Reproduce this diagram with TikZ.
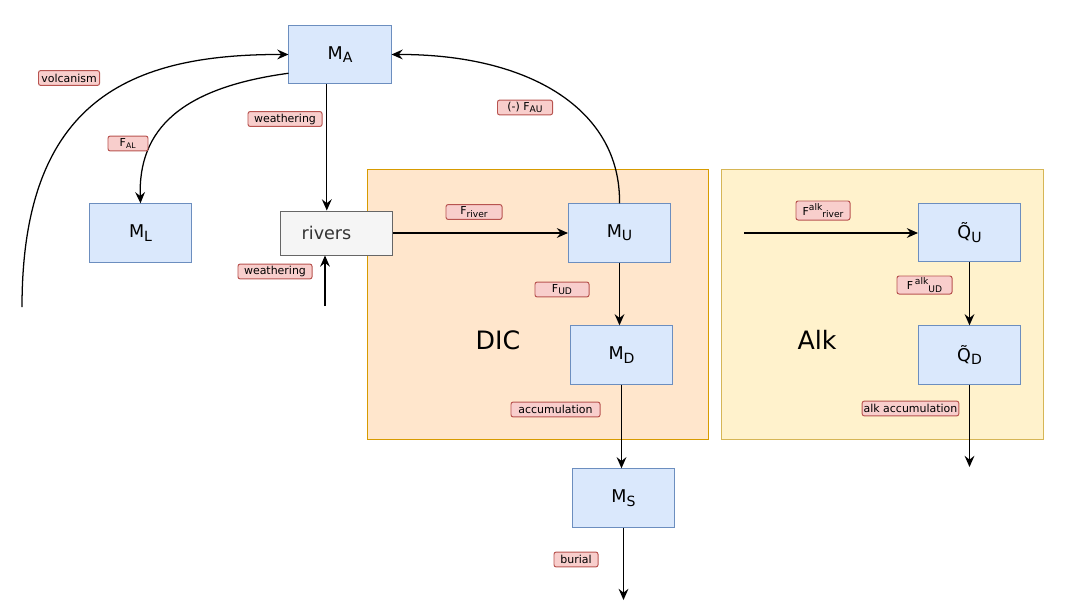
\documentclass[tikz,border=0pt]{standalone}
\usepackage{fontspec}
\setmainfont{DejaVu Sans}
\usepackage{tikz}
\usetikzlibrary{arrows.meta}
\definecolor{poolfill}{HTML}{DAE8FC}
\definecolor{poolline}{HTML}{6C8EBF}
\definecolor{labelfill}{HTML}{F8CECC}
\definecolor{labelline}{HTML}{B85450}
\definecolor{dicfill}{HTML}{FFE6CC}
\definecolor{dicline}{HTML}{D79B00}
\definecolor{alkfill}{HTML}{FFF2CC}
\definecolor{alkline}{HTML}{D6B656}
\definecolor{riverfill}{HTML}{F5F5F5}
\definecolor{riverline}{HTML}{666666}
\newcommand{\poolsub}[1]{\raisebox{-0.35ex}{\fontsize{10}{11}\selectfont #1}}
\newcommand{\fluxsub}[1]{\raisebox{-0.4ex}{\fontsize{6.5}{7}\selectfont #1}}
\newcommand{\fluxsup}[1]{\raisebox{0.8ex}{\fontsize{6.5}{7}\selectfont #1}}

\begin{document}
\begin{tikzpicture}[x=0.025cm,y=-0.025cm,->,line width=0.9pt,
                    >={Stealth[length=8pt,width=7pt,inset=2.8pt]},
                    pool node/.style={rectangle,draw=poolline,fill=poolfill,line width=0.7pt,
                        minimum width=2.55cm,minimum height=1.46cm,font=\fontsize{12.5}{14}\selectfont},
                    flux label/.style={rectangle,rounded corners=1.5pt,draw=labelline,fill=labelfill,
                        line width=0.7pt,inner sep=1pt,minimum height=0.37cm,font=\fontsize{7.8}{9}\selectfont},
                    region name/.style={font=\fontsize{18}{20}\selectfont}]
      \useasboundingbox (0,0) rectangle (1079,614);
      % ocean regions
      \path[-,draw=dicline,fill=dicfill,line width=0.7pt] (367,169) rectangle (708,439);
      \path[-,draw=alkline,fill=alkfill,line width=0.7pt] (721,169) rectangle (1043,439);
      \node[region name] (DIC) at (498,340) {DIC};
      \node[region name] (Alk) at (817,340) {Alk};

      \node[pool node] (MA) at (340,54.5) {M\poolsub{A}};
      \node[pool node] (ML) at (140.5,233) {M\poolsub{L}};
      \node[pool node,draw=riverline,fill=riverfill,text=black!80,minimum width=2.82cm,minimum height=1.1cm] (R) at (336.5,233) {rivers\hspace*{0.5cm}};
      \node[pool node] (MU) at (619.5,233) {M\poolsub{U}};
      \node[pool node] (MD) at (621.5,355) {M\poolsub{D}};
      \node[pool node] (MS) at (623.5,498) {M\poolsub{S}};
      \node[pool node] (QU) at (969.5,232.5) {\~{Q}\poolsub{U}};
      \node[pool node] (QD) at (969.5,355) {\~{Q}\poolsub{D}};

      \coordinate (volc) at (22,307);
      \coordinate (wIn) at (325,306);
      \coordinate (bur) at (623,600);
      \coordinate (alkIn) at (744,233);
      \coordinate (alkOut) at (969.5,467);

      % atmosphere and land
      \draw (volc) .. controls (22,100) and (130,54) .. (MA.west);
      \draw (MA.200) .. controls (180,88) and (138,130) .. (ML.north);
      \draw ([xshift=-0.33cm]MA.south) coordinate (wOut) -- (wOut |- R.north);
      \draw (wIn) -- (wIn |- R.south);
      \draw (MU.north) .. controls (621,110) and (530,54) .. (MA.east);
      %
      \draw (R.east) -- (MU.west);
      \draw (MU.south) -- (MU.south |- MD.north);
      \draw (MD.south) -- (MD.south |- MS.north);
      \draw (MS.south) -- (MS.south |- bur);
      %
      \draw (alkIn) -- (alkIn -| QU.west);
      \draw (QU.south) -- (QD.north);
      \draw (QD.south) -- (alkOut);

      % fluxes
      \node[flux label,minimum width=1.525cm] (lVolc) at (69,78) {volcanism};
      \node[flux label,minimum width=1.0cm] (lFAL) at (128,143.5) {F\textsubscript{AL}};
      \node[flux label,minimum width=1.85cm] (lW1) at (285,119) {weathering};
      \node[flux label,minimum width=1.85cm] (lW2) at (275,271.5) {weathering};
      \node[flux label,minimum width=1.375cm] (lFAU) at (525,107.5) {(-) F\fluxsub{AU}};
      \node[flux label,minimum width=1.4cm] (lFr) at (474,212) {F\fluxsub{river}};
      \node[flux label,minimum width=1.35cm] (lFUD) at (562,289.5) {F\fluxsub{UD}};
      \node[flux label,minimum width=2.225cm] (lAcc) at (555.5,409.5) {accumulation};
      \node[flux label,minimum width=1.1cm] (lBur) at (576,559.5) {burial};
      \node[flux label,minimum width=1.35cm,minimum height=0.475cm] (lAr) at (823,210.5) {F\fluxsup{alk}\fluxsub{river}};
      \node[flux label,minimum width=1.375cm,minimum height=0.45cm] (lAUD) at (924.5,285) {F\,\fluxsup{alk}\fluxsub{UD}};
      \node[flux label,minimum width=2.275cm] (lAacc) at (910.5,408.5) {alk accumulation};
\end{tikzpicture}
\end{document}
